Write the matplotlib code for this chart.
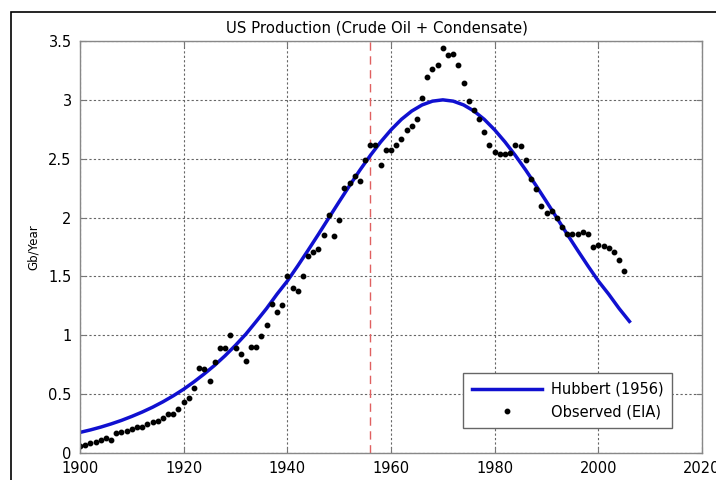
import matplotlib
matplotlib.use("Agg")
import matplotlib.pyplot as plt
from matplotlib.patches import Rectangle

# Observed (EIA) production, Gb/Year
obs_years = list(range(1900, 2006))
obs_values = [
    0.06, 0.07, 0.085, 0.09, 0.11, 0.13, 0.11, 0.17, 0.18, 0.19,   # 1900-1909
    0.20, 0.22, 0.22, 0.25, 0.26, 0.27, 0.30, 0.33, 0.33, 0.37,   # 1910-1919
    0.43, 0.47, 0.55, 0.72, 0.71, 0.61, 0.77, 0.89, 0.89, 1.00,   # 1920-1929
    0.89, 0.84, 0.78, 0.90, 0.90, 0.99, 1.09, 1.27, 1.20, 1.26,   # 1930-1939
    1.50, 1.40, 1.38, 1.50, 1.67, 1.71, 1.73, 1.85, 2.02, 1.84,   # 1940-1949
    1.98, 2.25, 2.29, 2.35, 2.31, 2.49, 2.62, 2.62, 2.45, 2.57,   # 1950-1959
    2.57, 2.62, 2.67, 2.74, 2.78, 2.84, 3.02, 3.19, 3.26, 3.30,   # 1960-1969
    3.44, 3.38, 3.39, 3.30, 3.14, 2.99, 2.91, 2.84, 2.73, 2.62,   # 1970-1979
    2.56, 2.54, 2.54, 2.55, 2.62, 2.61, 2.49, 2.33, 2.24, 2.10,   # 1980-1989
    2.04, 2.06, 2.00, 1.92, 1.86, 1.86, 1.86, 1.88, 1.86, 1.75,   # 1990-1999
    1.77, 1.76, 1.74, 1.71, 1.64, 1.55,                           # 2000-2005
]

# Hubbert (1956) curve, read every 2 years
hub_years = list(range(1900, 2007, 2))
hub_values = [
    0.175, 0.196, 0.220, 0.247, 0.277, 0.311, 0.348, 0.389, 0.435, 0.486,
    0.542, 0.605, 0.673, 0.746, 0.827, 0.915, 1.010, 1.118, 1.228, 1.349,
    1.461, 1.589, 1.722, 1.858, 1.997, 2.135, 2.271, 2.403, 2.527, 2.642,
    2.745, 2.834, 2.905, 2.957, 2.989, 3.000, 2.989, 2.957, 2.905, 2.834,
    2.745, 2.642, 2.527, 2.403, 2.271, 2.135, 1.997, 1.858, 1.722, 1.589,
    1.461, 1.349, 1.228, 1.118,
]

prediction_year = 1956
x_ticks = [1900, 1920, 1940, 1960, 1980, 2000, 2020]
y_ticks = [0, 0.5, 1, 1.5, 2, 2.5, 3, 3.5]
y_tick_labels = ["0", "0.5", "1", "1.5", "2", "2.5", "3", "3.5"]

plt.rcParams['font.family'] = ['DejaVu Sans']

fig = plt.figure(figsize=(7.16, 4.8), dpi=100)
ax = fig.add_axes([80/716, 1-453/480, (702-80)/716, (453-41)/480])

# outer frame
fig.patches.append(Rectangle((11/716, -0.1), 1.2, 1-12/480+0.1,
                             transform=fig.transFigure, fill=False,
                             edgecolor='black', linewidth=1.2))

ax.grid(True, linestyle=(0, (2, 2)), color='#666666', linewidth=0.8)
ax.set_axisbelow(True)

ax.axvline(prediction_year, color='#e06060', linestyle=(0, (6, 4)), linewidth=1.0)
ax.plot(hub_years, hub_values, color='#1010d0', linewidth=2.5, label='Hubbert (1956)')
ax.plot(obs_years, obs_values, linestyle='none', marker='o', markersize=3.2,
        color='black', label='Observed (EIA)')

ax.set_xlim(1900, 2020)
ax.set_ylim(0, 3.5)
ax.set_xticks(x_ticks)
ax.set_yticks(y_ticks)
ax.set_yticklabels(y_tick_labels)
ax.tick_params(direction='in', length=4, labelsize=10.5, top=True, right=True,
               color='#777777', pad=6)
for s in ax.spines.values():
    s.set_color('#888888')
    s.set_linewidth(1.0)

ax.set_title('US Production (Crude Oil + Condensate)', fontsize=10.7, pad=6, x=0.478)
ax.set_ylabel('Gb/Year', fontsize=8.5, labelpad=6)

leg = ax.legend(loc='lower right', fontsize=10.5, fancybox=False,
                edgecolor='#666666', framealpha=1, handlelength=4.8,
                borderpad=0.6, handletextpad=0.6, borderaxespad=0.0)
leg.set_bbox_to_anchor((672/716, 1-428/480), transform=fig.transFigure)

fig.savefig('out.png', dpi=100)
